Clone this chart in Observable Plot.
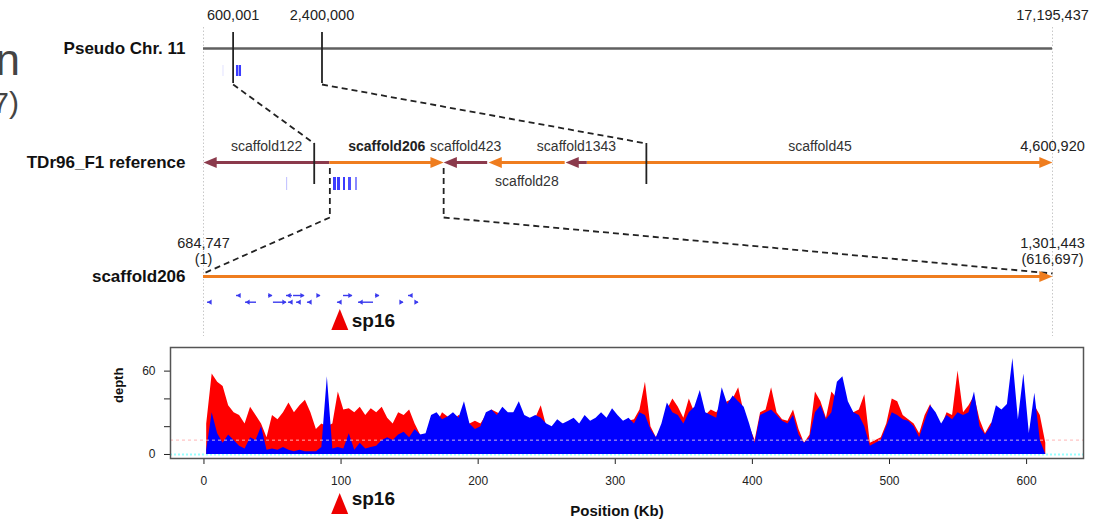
<!DOCTYPE html>
<html><head><meta charset="utf-8">
<script src="https://cdn.jsdelivr.net/npm/d3@7"></script>
<script src="https://cdn.jsdelivr.net/npm/@observablehq/plot@0.6"></script>
<style>
html,body{margin:0;padding:0;background:#fff}
body{width:1106px;height:523px;overflow:hidden;position:relative;font-family:"Liberation Sans",Arial,sans-serif}
#frag{position:absolute;left:0;top:0}
#top{position:absolute;left:0;top:0}
#bottom{position:absolute;left:0;top:335px}
</style></head><body>
<svg id="frag" width="60" height="130"><text x="20" y="75" font-size="44" fill="#444" text-anchor="end" font-family="Liberation Sans">n</text><text x="19" y="113" font-size="30" fill="#444" text-anchor="end" font-family="Liberation Sans">7)</text></svg>
<div id="top"></div>
<div id="bottom"></div>
<script>
// ---------------- data ----------------
const chrName = "Pseudo Chr. 11";
const chrLen = 17195437;
const regionTicks = [600001, 2400000];          // on the pseudo chromosome
const refName = "TDr96_F1 reference";
const refLen = 4600920;
const refTicks = [600001, 2400000];             // same region mapped on the reference
const scaffoldNames  = ["scaffold122","scaffold206","scaffold423","scaffold28","scaffold1343","scaffold45"];
const scaffoldStart  = [0, 684747, 1301444, 1545000, 1962000, 2081000];
const scaffoldEnd    = [684746, 1301443, 1540000, 1960000, 2080000, 4600920];
const scaffoldStrand = ["-","+","-","-","-","+"];
const focusScaffold = "scaffold206";
const focusStart = 684747, focusEnd = 1301443, focusLen = 616697;
const chrHitStart = [400000, 668000, 722000];
const chrHitEnd   = [410000, 712000, 770000];
const chrHitScore = [0.3, 1, 1];
const refHitStart = [450000, 704500, 726000, 758700, 785800, 823700];
const refHitEnd   = [456000, 720700, 742500, 769500, 802000, 834500];
const refHitScore = [0.3, 1, 1, 1, 0.9, 0.6];
// genes on scaffold206 (kb)
const geneStart  = [2.9, 24.0, 30.5, 47.2, 50.8, 60.3, 65.4, 61.7, 67.6, 75.5, 82.8, 97.3, 101.7, 112.6, 124.9, 143.1, 148.9, 154.0];
const geneEnd    = [5.1, 26.9, 38.5, 50.1, 60.3, 64.6, 73.4, 63.9, 69.7, 77.7, 85.0, 100.2, 108.2, 123.5, 127.8, 145.3, 151.8, 156.2];
const geneStrand = ["-","-","-","+","+","-","+","-","-","-","+","-","+","-","+","+","-","+"];
const geneLane   = [1,0,1,0,1,0,0,1,1,1,0,1,0,1,0,1,0,1];
const sp16Kb = 99;
// read depth, 4 kb bins from 0 kb
const binKb = 4;
const redDepth = [
22,58,52,49,35,30,28,22,34,28,
22,12,28,25,30,37,30,35,39,30,
18,22,20,22,45,32,33,30,34,28,
33,30,34,26,22,30,28,32,22,14,
12,15,22,30,27,24,28,26,22,24,
22,28,32,30,28,26,30,26,22,24,
26,35,20,18,20,22,20,24,20,22,
20,24,22,25,22,22,20,24,25,32,
52,20,12,20,32,40,34,26,40,30,
32,28,32,30,36,38,40,48,30,20,
10,30,32,48,30,25,24,32,18,8,
14,45,38,26,45,40,42,34,30,32,
43,8,10,12,22,40,38,28,25,22,
15,28,36,25,20,30,28,60,30,35,
42,25,15,22,25,30,28,26,24,20,
15,35,28,8];
const blueDepth = [
3,30,15,8,14,10,6,4,12,10,
20,3,4,3,5,3,2,3,2,2,
2,5,56,4,5,4,15,3,8,4,
5,6,10,12,10,14,16,12,18,14,
15,28,30,25,27,30,26,38,22,18,
20,30,32,28,34,30,30,38,28,26,
28,26,22,20,25,22,24,26,22,28,
24,26,30,26,33,28,24,26,22,30,
28,18,12,22,37,30,28,22,30,34,
46,30,28,26,48,36,42,38,34,22,
8,28,30,32,28,24,22,28,14,8,
12,30,35,25,30,52,56,38,30,28,
20,6,8,10,20,30,28,25,24,20,
12,24,35,30,22,28,25,30,28,30,
45,20,14,20,35,32,36,69,25,58,
15,44,10,0];
const meanDepth = 10.3;
const xTicks = [0,100,200,300,400,500,600];
const yTicks = [0,20,40,60];
const yLabelled = [0,60];

// ---------------- helpers ----------------
const fmt = d3.format(",");
const FONT = "Liberation Sans, Arial, Helvetica, sans-serif";
const X0 = 203, X1 = 1052, Y0 = 48, TRACK = 114;
const u = px => px / TRACK;          // pixel offset -> track units
const px2x = px => px / (X1 - X0);   // pixel length -> fraction
const ORANGE = "#ef7d1f", MAROON = "#8b3a4c", HIT = "#3b3bff", GENE = "#3a3aee";
function head(dir, lenK, widK) {
  return {draw(ctx, size) {
    const r = Math.sqrt(size / Math.PI);
    ctx.moveTo(0, 0); ctx.lineTo(-dir * lenK * r, -widK * r); ctx.lineTo(-dir * lenK * r, widK * r); ctx.closePath();
  }};
}
const tallTri = {draw(ctx, size) {
  const r = Math.sqrt(size / Math.PI);
  ctx.moveTo(0, -1.05 * r); ctx.lineTo(0.85 * r, 1.05 * r); ctx.lineTo(-0.85 * r, 1.05 * r); ctx.closePath();
}};

const scaffolds = scaffoldNames.map((name, i) => ({
  name, start: scaffoldStart[i], end: scaffoldEnd[i], strand: scaffoldStrand[i],
  color: i % 2 === 0 ? MAROON : ORANGE
}));
const labelBelow = new Set(["scaffold28"]);
const chrHits = chrHitStart.map((s, i) => ({s, e: chrHitEnd[i], v: chrHitScore[i]}));
const refHits = refHitStart.map((s, i) => ({s, e: refHitEnd[i], v: refHitScore[i]}));
const genes = geneStart.map((s, i) => ({s: s * 1000 / focusLen, e: geneEnd[i] * 1000 / focusLen, strand: geneStrand[i], lane: geneLane[i]}));
const laneY = l => 2 + u(l ? 25.7 : 19);

const headLen = px2x(12);
const topPlot = Plot.plot({
  width: 1106, height: 340, margin: 0,
  x: {domain: [0, 1], range: [X0, X1], axis: null},
  y: {domain: [0, 2], range: [Y0, Y0 + 2 * TRACK], axis: null},
  style: {fontFamily: FONT, background: "transparent", overflow: "visible"},
  marks: [
    Plot.ruleX([0, 1], {y1: u(-21), y2: 2 + u(60), stroke: "#c8c8c8", strokeDasharray: "1.5,2"}),
    Plot.ruleY([0], {x1: 0, x2: 1, stroke: "#606060", strokeWidth: 2.4}),
    Plot.text([...regionTicks, chrLen], {x: d => d / chrLen, y: u(-33), text: d => fmt(d), fontSize: 14.5, fill: "#222"}),
    Plot.ruleX(regionTicks, {x: d => d / chrLen, y1: u(-16), y2: u(35), stroke: "#222", strokeWidth: 1.8}),
    Plot.rect(chrHits, {x1: d => d.s / chrLen, x2: d => d.e / chrLen, y1: u(17), y2: u(28), fill: HIT, fillOpacity: d => d.v}),
    Plot.link(regionTicks.map((p, i) => ({a: p / chrLen, b: refTicks[i] / refLen})),
      {x1: "a", x2: "b", y1: u(36), y2: 1 + u(-19), stroke: "#222", strokeWidth: 1.8, strokeDasharray: "6,4"}),
    Plot.ruleY(scaffolds, {y: 1, x1: d => d.start / refLen + (d.strand === "-" ? headLen : 0),
      x2: d => d.end / refLen - (d.strand === "+" ? headLen : 0), stroke: d => d.color, strokeWidth: 3}),
    Plot.dot(scaffolds.filter(d => d.strand === "+"), {x: d => d.end / refLen, y: 1, r: 6, symbol: head(1, 2.2, 0.9), fill: d => d.color, stroke: "none"}),
    Plot.dot(scaffolds.filter(d => d.strand === "-"), {x: d => d.start / refLen, y: 1, r: 6, symbol: head(-1, 2.2, 0.9), fill: d => d.color, stroke: "none"}),
    Plot.text(scaffolds.filter(d => d.name !== focusScaffold), {x: d => (d.start + d.end) / 2 / refLen,
      y: d => 1 + (labelBelow.has(d.name) ? u(19) : u(-16)), text: "name", fontSize: 14, fill: "#333"}),
    Plot.text(scaffolds.filter(d => d.name === focusScaffold), {x: d => (d.start + d.end) / 2 / refLen,
      y: 1 + u(-16), text: "name", fontSize: 14, fontWeight: "bold", fill: "#222"}),
    Plot.text([refLen], {x: 1, y: 1 + u(-16), text: d => fmt(d), fontSize: 14.5, fill: "#222"}),
    Plot.ruleX(refTicks, {x: d => d / refLen, y1: 1 + u(-19), y2: 1 + u(22), stroke: "#222", strokeWidth: 1.8}),
    Plot.rect(refHits, {x1: d => d.s / refLen, x2: d => d.e / refLen, y1: 1 + u(15), y2: 1 + u(28), fill: HIT, fillOpacity: d => d.v}),
    Plot.ruleX([focusStart, focusEnd], {x: d => d / refLen, y1: 1 + u(6), y2: 1 + u(55), stroke: "#222", strokeWidth: 1.8, strokeDasharray: "6,4"}),
    Plot.link([{a: focusStart / refLen, b: 0}, {a: focusEnd / refLen, b: 1}],
      {x1: "a", x2: "b", y1: 1 + u(55), y2: 2 + u(-3), stroke: "#222", strokeWidth: 1.8, strokeDasharray: "6,4"}),
    Plot.ruleY([2], {x1: 0, x2: 1 - headLen, stroke: ORANGE, strokeWidth: 3}),
    Plot.dot([1], {x: 1, y: 2, r: 6, symbol: head(1, 2.2, 0.9), fill: ORANGE, stroke: "none"}),
    Plot.text([focusStart, focusEnd], {x: (d, i) => i, y: 2 + u(-33), text: d => fmt(d), fontSize: 14.5, fill: "#222"}),
    Plot.text([1, focusLen], {x: (d, i) => i, y: 2 + u(-17), text: d => "(" + fmt(d) + ")", fontSize: 14.5, fill: "#222"}),
    Plot.ruleY(genes, {x1: "s", x2: "e", y: d => laneY(d.lane), stroke: GENE, strokeWidth: 1.4}),
    Plot.dot(genes.filter(d => d.strand === "+"), {x: "e", y: d => laneY(d.lane), r: 2.6, symbol: head(1, 1.6, 1), fill: GENE, stroke: "none"}),
    Plot.dot(genes.filter(d => d.strand === "-"), {x: "s", y: d => laneY(d.lane), r: 2.6, symbol: head(-1, 1.6, 1), fill: GENE, stroke: "none"}),
    Plot.dot([sp16Kb], {x: d => d * 1000 / focusLen, y: 2 + u(43), r: 10, symbol: tallTri, fill: "#ee0000", stroke: "none"}),
    Plot.text([sp16Kb], {x: d => d * 1000 / focusLen, y: 2 + u(44), dx: 12, text: () => "sp16", textAnchor: "start", fontSize: 19, fontWeight: "bold", fill: "#111"}),
    Plot.text([chrName, refName, focusScaffold], {x: 0, y: (d, i) => i, dx: -18, text: d => d, textAnchor: "end", fontSize: 17, fontWeight: "bold", fill: "#111"})
  ]
});
document.getElementById("top").appendChild(topPlot);

// ---------------- depth plot ----------------
const bins = redDepth.map((v, i) => ({x: i * binKb + binKb / 2, red: v, blue: blueDepth[i]}));
const bottomPlot = Plot.plot({
  width: 1106, height: 188,
  marginLeft: 170, marginRight: 23, marginTop: 12, marginBottom: 65,
  x: {domain: [-24.4, 641.5], ticks: xTicks, tickSize: 6, tickPadding: 12, label: null},
  y: {domain: [-2.9, 77], ticks: yTicks, tickSize: 6, tickPadding: 9, label: null,
      tickFormat: d => yLabelled.includes(d) ? String(d) : ""},
  style: {fontFamily: FONT, fontSize: "12px", background: "transparent", overflow: "visible", color: "#222"},
  marks: [
    Plot.ruleY([meanDepth], {stroke: "#ffaaaa", strokeDasharray: "3,3"}),
    Plot.ruleY([0], {stroke: "#99ffff", strokeWidth: 2, strokeDasharray: "2,2"}),
    Plot.areaY(bins, {x: "x", y: "red", fill: "#ff0000", curve: "linear"}),
    Plot.areaY(bins, {x: "x", y: "blue", fill: "#0000ff", curve: "linear"}),
    Plot.ruleY([meanDepth], {stroke: "#ffdede", strokeOpacity: 0.8, strokeDasharray: "3,3"}),
    Plot.frame({stroke: "#555", strokeWidth: 1.5}),
    Plot.text(["depth"], {frameAnchor: "left", dx: -52, rotate: -90, fontWeight: "bold", fontSize: 13, fill: "#111"}),
    Plot.text(["Position (Kb)"], {frameAnchor: "bottom", dx: -10, dy: 57, fontWeight: "bold", fontSize: 15, fill: "#111"}),
    Plot.dot([sp16Kb], {x: d => d, frameAnchor: "bottom", dy: 45, r: 10, symbol: tallTri, fill: "#ee0000", stroke: "none"}),
    Plot.text([sp16Kb], {x: d => d, frameAnchor: "bottom", dy: 46, dx: 12, text: () => "sp16", textAnchor: "start", fontSize: 19, fontWeight: "bold", fill: "#111"})
  ]
});
document.getElementById("bottom").appendChild(bottomPlot);
</script>
</body></html>
